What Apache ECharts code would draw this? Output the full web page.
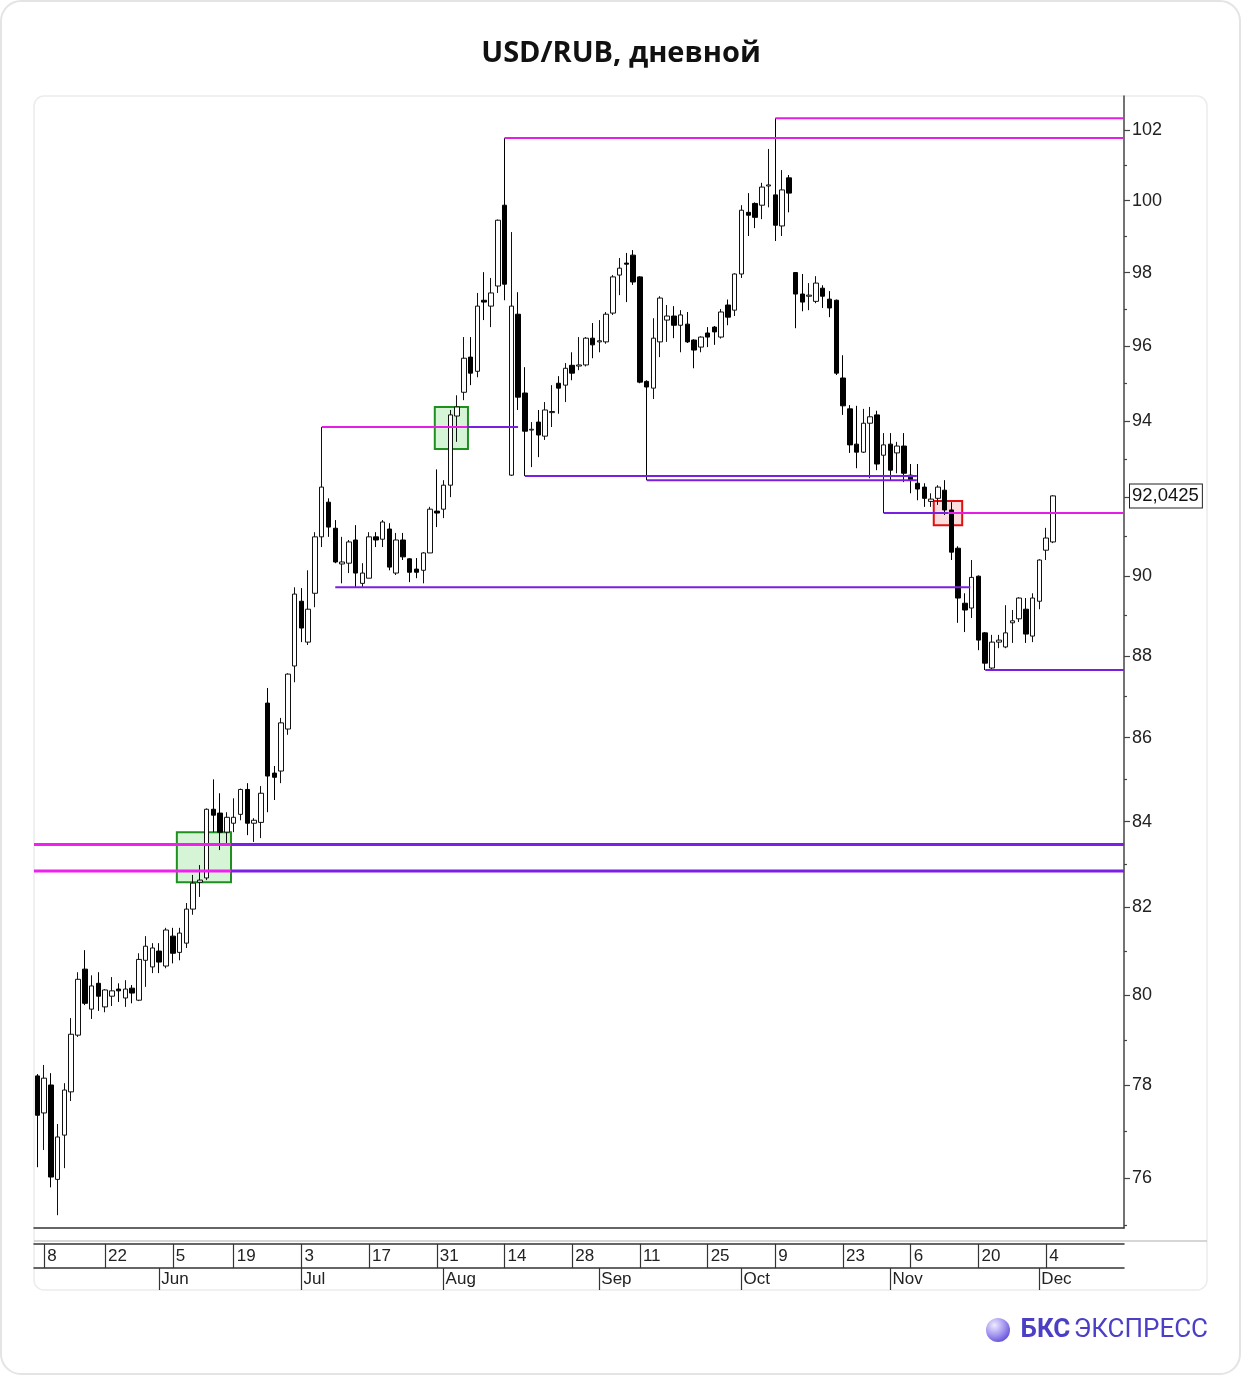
<!DOCTYPE html>
<html><head><meta charset="utf-8">
<script src="https://cdn.jsdelivr.net/npm/echarts/dist/echarts.min.js"></script>
<style>html,body{margin:0;padding:0;background:#fff;}#chart{width:1242px;height:1376px;}</style>
</head><body><div id="chart"></div>
<script>
// ---------- DATA ----------
const firstTradingDay = '2023-05-05';
const holidays = ['2023-05-09', '2023-06-12'];
const tradingDayCount = 151;
const emptySlots = 10;

const opens = [78.21,77.40,78.01,75.97,76.92,77.86,79.11,80.59,79.69,80.27,79.74,79.98,80.14,79.94,80.16,79.89,80.79,80.64,81.00,80.66,
81.34,80.97,81.18,81.96,82.58,82.68,84.29,84.20,83.75,83.96,84.17,84.76,83.96,83.98,86.84,85.15,85.20,86.21,87.75,89.36,
88.34,89.56,90.99,91.88,91.21,90.30,90.32,90.91,89.81,89.94,90.99,90.93,91.19,90.07,90.91,90.43,90.17,90.14,90.58,91.65,
91.70,92.32,94.13,94.76,95.70,95.32,97.24,97.08,97.63,99.87,92.58,96.86,94.74,93.76,93.97,93.60,94.22,95.00,94.95,95.48,
95.46,95.49,96.21,96.11,96.11,96.89,97.93,98.26,98.48,97.88,95.05,94.87,96.11,96.70,96.81,96.56,96.59,96.16,95.97,96.35,
96.51,96.24,97.11,96.97,97.96,99.67,99.92,99.87,100.41,100.16,99.29,100.64,98.00,97.41,97.35,97.21,97.57,97.27,97.24,95.14,
94.32,93.39,93.18,93.94,94.16,93.10,93.39,93.16,93.34,92.58,92.37,92.27,91.90,91.98,92.19,91.68,90.70,89.31,89.19,89.99,
88.57,87.70,88.34,88.22,88.82,88.92,89.16,88.49,89.36,90.65,90.86];
const closes = [77.35,78.16,76.02,76.88,77.90,79.13,80.36,79.82,80.21,79.98,80.12,80.10,80.10,80.14,80.05,80.81,81.11,81.07,80.75,81.48,
80.95,81.41,81.96,82.56,82.63,84.29,84.15,83.75,84.10,84.10,84.76,83.96,84.03,84.67,85.08,85.05,86.36,87.55,89.54,88.69,
89.16,90.99,92.27,91.24,90.35,90.35,90.86,90.07,90.07,90.99,90.91,91.37,90.22,90.91,90.48,90.09,90.09,90.58,91.70,91.60,
92.32,94.16,94.37,95.67,95.27,97.08,97.19,97.44,99.45,97.68,97.08,94.63,93.73,93.78,93.63,94.29,94.25,94.87,95.40,95.27,
95.49,96.21,96.03,96.14,96.86,97.88,98.12,98.23,97.74,95.03,94.90,96.21,97.30,96.81,96.56,96.84,96.11,95.89,96.24,96.24,
96.38,96.92,96.78,97.96,99.73,99.59,99.53,100.38,100.44,99.31,100.30,100.21,97.41,97.19,97.38,97.71,97.35,97.03,95.27,94.40,
93.37,93.18,93.94,94.11,92.87,93.37,92.71,93.34,92.63,92.45,92.22,91.98,91.96,92.27,91.68,90.60,89.44,89.14,89.96,88.39,
87.82,88.34,88.39,88.57,88.87,89.44,88.54,89.44,90.40,90.96,92.0425];
const lows = [76.23,76.60,75.80,75.21,76.21,77.66,79.07,79.78,79.47,79.65,79.62,79.76,79.85,79.74,79.82,79.87,80.19,80.50,80.50,80.61,
80.72,80.79,81.07,81.83,82.24,82.63,83.75,83.33,83.49,83.75,84.03,83.68,83.52,83.61,84.22,84.51,84.91,86.07,87.35,88.34,
88.27,89.21,90.73,90.99,90.32,89.81,90.07,89.71,89.71,89.94,90.73,90.73,90.14,90.02,90.40,89.84,89.94,89.81,90.58,91.24,
91.47,92.01,93.45,94.55,94.95,95.16,96.70,96.51,97.44,97.24,92.56,94.29,92.56,92.79,93.05,93.50,93.84,94.19,94.50,95.08,
95.35,95.45,95.67,95.83,96.06,96.84,97.38,97.19,97.66,95.00,92.45,94.58,95.70,96.11,96.21,95.83,96.08,95.40,95.83,95.97,
96.03,96.20,96.56,96.81,97.85,99.01,99.23,99.48,99.81,98.87,99.01,99.67,96.48,96.94,96.97,97.16,97.03,96.78,95.22,94.16,
93.16,92.76,93.16,92.50,92.71,91.60,92.45,92.63,92.40,92.11,91.93,91.76,91.76,91.81,91.55,90.40,88.82,88.59,88.94,88.14,
87.65,87.67,88.19,88.19,88.32,88.84,88.32,88.34,89.16,90.40,90.83];
const highs = [78.25,78.45,78.27,77.16,78.05,79.49,80.52,81.02,80.45,80.52,80.14,80.41,80.27,80.34,80.23,80.95,81.34,81.18,81.18,81.53,
81.53,81.53,82.10,82.75,82.98,84.31,85.00,84.67,84.22,84.55,84.78,84.91,84.08,84.84,87.21,85.32,86.48,87.57,89.71,89.69,
90.14,91.11,93.84,91.98,91.42,90.99,90.91,91.29,90.32,91.11,91.11,91.42,91.34,91.09,91.09,90.45,90.45,90.60,91.76,92.73,
92.45,94.29,94.68,96.24,96.24,97.44,98.01,97.85,99.47,101.77,99.12,97.46,95.43,93.97,94.29,94.50,94.95,95.19,95.54,95.83,
96.24,96.24,96.62,96.70,96.92,97.93,98.40,98.54,98.62,97.90,95.08,96.75,97.35,97.11,97.08,96.97,96.92,96.18,96.26,96.51,
96.54,97.00,97.26,97.98,99.87,100.21,99.95,100.50,101.46,102.34,100.86,100.72,98.01,97.96,97.71,97.90,97.65,97.49,97.26,95.75,
94.42,94.40,94.32,94.37,94.27,93.68,93.68,93.45,93.68,92.87,92.87,92.37,92.11,92.32,92.45,91.88,90.75,89.56,90.40,90.01,
88.59,88.52,88.52,89.26,89.14,89.46,89.44,89.56,90.42,91.22,92.06];

const lastPrice = 92.0425;
const lastPriceLabel = '92,0425';

const yLabelValues = [76, 78, 80, 82, 84, 86, 88, 90, 94, 96, 98, 100, 102];
const yMajorTickValues = [76, 78, 80, 82, 84, 86, 88, 90, 92, 94, 96, 98, 100, 102];
const yMinorTickValues = [75, 77, 79, 81, 83, 85, 87, 89, 91, 93, 95, 97, 99, 101];
const yMin = 74.94, yMax = 102.98;

const dayTickDates = ['2023-05-08','2023-05-22','2023-06-05','2023-06-19','2023-07-03','2023-07-17','2023-07-31','2023-08-14',
  '2023-08-28','2023-09-11','2023-09-25','2023-10-09','2023-10-23','2023-11-06','2023-11-20','2023-12-04'];
const monthStartDates = ['2023-06-01','2023-07-03','2023-08-01','2023-09-01','2023-10-02','2023-11-01','2023-12-01'];
const monthNames = ['Jan','Feb','Mar','Apr','May','Jun','Jul','Aug','Sep','Oct','Nov','Dec'];

// level lines (value, start/end in category-index units, kind)
const levelValues = [102.34, 101.77, 93.84, 93.84, 92.56, 92.45, 89.71, 91.60, 91.60, 87.65, 83.46, 83.46, 82.84, 82.84];
const levelFrom   = [109, 69, 42, 63.5, 72, 90, 44, 125, 134.6, 140, -0.5, 28.6, -0.5, 28.6];
const levelTo     = [160.5, 160.5, 63.5, 71, 129.9, 129.9, 137.8, 134.6, 160.5, 160.5, 28.6, 160.5, 28.6, 160.5];
const levelKind   = ['res','res','res','sup','sup','sup','sup','sup','res','sup','resBold','supBold','resBold','supBold'];

// zones (boxes)
const zoneFrom   = [20.6, 58.7, 132.4];
const zoneTo     = [28.6, 63.6, 136.6];
const zoneTop    = [83.75, 94.37, 91.91];
const zoneBottom = [82.58, 93.26, 91.29];
const zoneKind   = ['buy', 'buy', 'sell'];

// ---------- BUILD ----------
function buildCategories() {
  const out = [];
  const d = new Date(firstTradingDay + 'T00:00:00Z');
  while (out.length < tradingDayCount + emptySlots) {
    const s = d.toISOString().slice(0, 10);
    const wd = d.getUTCDay();
    if (wd !== 0 && wd !== 6 && holidays.indexOf(s) < 0) out.push(s);
    d.setUTCDate(d.getUTCDate() + 1);
  }
  return out;
}
const categories = buildCategories();
const candles = opens.map((o, i) => [o, closes[i], lows[i], highs[i]]);

const levelStyles = {
  res: { color: '#e41ee4', width: 2 },
  sup: { color: '#7a1fe0', width: 2 },
  resBold: { color: '#f020f0', width: 3 },
  supBold: { color: '#7d20e6', width: 3 }
};
const zoneStyles = {
  buy: { color: 'rgba(120,220,120,0.30)', borderColor: '#1f8f1f', borderWidth: 2 },
  sell: { color: 'rgba(240,120,120,0.25)', borderColor: '#e01010', borderWidth: 2 }
};

const GRID_LEFT = 34, GRID_RIGHT = 118, GRID_TOP = 96, GRID_BOTTOM = 148;
const nSlots = categories.length;
const FONT = "'Liberation Sans', Arial, sans-serif";

const daySet = new Set(dayTickDates);
const monthSet = new Set(monthStartDates);

const series = [{
  type: 'candlestick',
  xAxisIndex: 0, yAxisIndex: 0,
  data: candles,
  barWidth: 5,
  z: 1,
  itemStyle: { color: '#ffffff', color0: '#000000', borderColor: '#111111', borderColor0: '#000000', borderWidth: 1 },
  markLine: {
    silent: true, symbol: 'none',
    lineStyle: { color: 'rgba(0,0,0,0)', width: 1, type: 'solid' },
    label: {
      show: true, position: 'end', distance: 6, formatter: lastPriceLabel,
      fontSize: 18.5, fontFamily: FONT, color: '#111',
      backgroundColor: '#fff', borderColor: '#222', borderWidth: 1, padding: [3, 3, 1, 2]
    },
    data: [{ yAxis: lastPrice }]
  }
}];

levelValues.forEach((v, i) => {
  const st = levelStyles[levelKind[i]];
  const s = {
    type: 'line', xAxisIndex: 3, yAxisIndex: 0, silent: true, z: 3,
    symbol: 'none', animation: false,
    lineStyle: { color: st.color, width: st.width },
    data: [[levelFrom[i], v], [levelTo[i], v]]
  };
  if (i === 0) {
    s.markArea = {
      silent: true,
      data: zoneFrom.map((x0, k) => [
        { coord: [x0, zoneTop[k]], itemStyle: zoneStyles[zoneKind[k]] },
        { coord: [zoneTo[k], zoneBottom[k]] }
      ])
    };
  }
  series.push(s);
});

const option = {
  animation: false,
  backgroundColor: '#ffffff',
  title: {
    text: 'USD/RUB, дневной', left: 'center', top: 34,
    textStyle: { fontFamily: "'Open Sans', sans-serif", fontWeight: 'bold', fontSize: 29, color: '#111' }
  },
  grid: { left: GRID_LEFT, right: GRID_RIGHT, top: GRID_TOP, bottom: GRID_BOTTOM, containLabel: false },
  xAxis: [
    { type: 'category', data: categories, position: 'bottom', boundaryGap: true,
      axisLine: { show: true, onZero: false, lineStyle: { color: '#333', width: 1.5 } },
      axisTick: { show: false }, axisLabel: { show: false }, splitLine: { show: false } },
    { type: 'category', data: categories, position: 'bottom', offset: 16, boundaryGap: true,
      axisLine: { show: true, onZero: false, lineStyle: { color: '#333', width: 1.5 } },
      axisTick: { show: true, alignWithLabel: true, length: 24, interval: (i, v) => daySet.has(v), lineStyle: { color: '#333', width: 1.2 } },
      axisLabel: { show: true, interval: (i, v) => daySet.has(v), formatter: v => String(+v.slice(8)),
        align: 'left', padding: [0, 0, 0, 3], margin: 4, fontSize: 17, fontFamily: FONT, color: '#222' } },
    { type: 'category', data: categories, position: 'bottom', offset: 40, boundaryGap: true,
      axisLine: { show: true, onZero: false, lineStyle: { color: '#333', width: 1.5 } },
      axisTick: { show: true, alignWithLabel: true, length: 22, interval: (i, v) => monthSet.has(v), lineStyle: { color: '#333', width: 1.2 } },
      axisLabel: { show: true, interval: (i, v) => monthSet.has(v), formatter: v => monthNames[+v.slice(5, 7) - 1],
        align: 'left', padding: [0, 0, 0, 2], margin: 3, fontSize: 17, fontFamily: FONT, color: '#222' } },
    { type: 'value', min: -0.5, max: nSlots - 0.5, show: false, axisLine: { onZero: false } }
  ],
  yAxis: [
    { type: 'log', logBase: 10, min: yMin, max: yMax, position: 'right',
      axisLine: { show: true, onZero: false, lineStyle: { color: '#444', width: 1.5 } },
      axisTick: { show: true, inside: false, length: 6, customValues: yMajorTickValues, lineStyle: { color: '#444', width: 1.2 } },
      axisLabel: { show: true, customValues: yLabelValues, margin: 8, fontSize: 18, fontFamily: FONT, color: '#222',
        formatter: v => String(Math.round(v)) },
      splitLine: { show: false } },
    { type: 'log', logBase: 10, min: yMin, max: yMax, position: 'right',
      axisLine: { show: false, onZero: false },
      axisTick: { show: true, inside: false, length: 3, customValues: yMinorTickValues, lineStyle: { color: '#444', width: 1.2 } },
      axisLabel: { show: false }, splitLine: { show: false } }
  ],
  graphic: [
    { type: 'rect', silent: true, z: 0, shape: { x: 1, y: 1, width: 1239, height: 1373, r: 20 },
      style: { fill: 'none', stroke: '#e4e4e4', lineWidth: 2 } },
    { type: 'rect', silent: true, z: 0, shape: { x: 34, y: 96, width: 1173, height: 1194, r: 10 },
      style: { fill: 'none', stroke: '#ececec', lineWidth: 1.5 } },
    { type: 'line', silent: true, z: 0, shape: { x1: 34, y1: 1241, x2: 1207, y2: 1241 },
      style: { stroke: '#c8c8c8', lineWidth: 1.5 } },
    { type: 'circle', silent: true, shape: { cx: 998, cy: 1330, r: 12 },
      style: { fill: { type: 'radial', x: 0.35, y: 0.3, r: 0.8,
        colorStops: [{ offset: 0, color: '#eeeaff' }, { offset: 0.5, color: '#a99cf0' }, { offset: 1, color: '#5a47d6' }] } } },
    { type: 'text', silent: true, x: 1208, y: 1330,
      style: { text: '{b|БКС} {r|ЭКСПРЕСС}', align: 'right', verticalAlign: 'middle',
        rich: { b: { fontFamily: 'Roboto, sans-serif', fontWeight: 'bold', fontSize: 26, fill: '#4b3fc6' },
                r: { fontFamily: 'Roboto, sans-serif', fontSize: 26, fill: '#4b3fc6' } } } }
  ],
  series: series
};

const chart = echarts.init(document.getElementById('chart'), null, { renderer: 'canvas' });
chart.setOption(option);
</script>
</body></html>
